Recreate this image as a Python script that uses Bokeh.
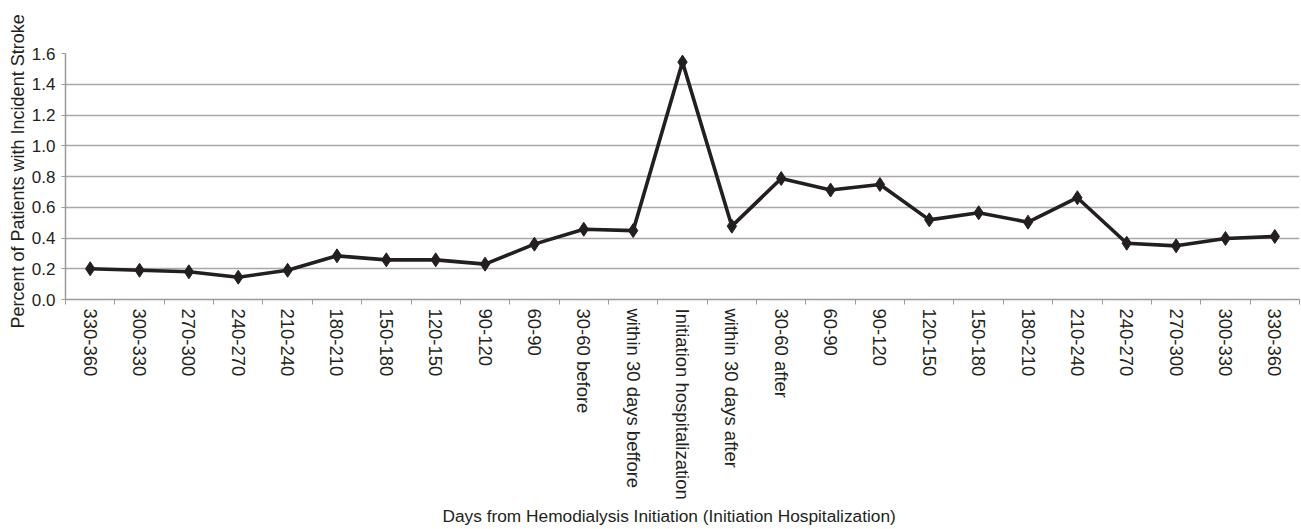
import math
from bokeh.plotting import figure
from bokeh.models import FixedTicker, Range1d, Title, PrintfTickFormatter
from bokeh.embed import file_html
from bokeh.resources import INLINE

categories = ["330-360", "300-330", "270-300", "240-270", "210-240", "180-210",
              "150-180", "120-150", "90-120", "60-90", "30-60 before",
              "within 30 days beffore", "Initiation hospitalization",
              "within 30 days after", "30-60 after", "60-90", "90-120",
              "120-150", "150-180", "180-210", "210-240", "240-270",
              "270-300", "300-330", "330-360"]
percent = [0.20, 0.19, 0.18, 0.145, 0.19, 0.284, 0.258, 0.258, 0.23, 0.36,
           0.457, 0.448, 1.544, 0.477, 0.787, 0.712, 0.748, 0.518, 0.564,
           0.503, 0.662, 0.366, 0.349, 0.397, 0.41]
y_ticks = [0.0, 0.2, 0.4, 0.6, 0.8, 1.0, 1.2, 1.4, 1.6]
x_title = "Days from Hemodialysis Initiation (Initiation Hospitalization)"
y_title = "Percent of Patients with Incident Stroke"

FONT = "Liberation Sans"
TXT = "#231f20"
AX = "#9a9a9a"

n = len(categories)
xs = list(range(n))

p = figure(width=1301, height=529, output_backend="svg", toolbar_location=None,
           x_range=Range1d(-0.5, n - 0.5), y_range=Range1d(0, 1.6),
           min_border_left=65, min_border_right=2, min_border_top=53,
           min_border_bottom=230)
p.outline_line_color = None
p.background_fill_color = "white"
p.border_fill_color = "white"

p.line(xs, percent, line_color=TXT, line_width=3.6)
p.scatter(xs, percent, marker="diamond", size=14, fill_color=TXT, line_color=TXT)

# x axis
xa = p.xaxis[0]
xa.ticker = FixedTicker(ticks=xs, minor_ticks=[i - 0.5 for i in range(n + 1)])
xa.major_label_overrides = {i: c for i, c in enumerate(categories)}
xa.major_label_orientation = -math.pi / 2
xa.major_tick_out = 0
xa.major_tick_in = 0
xa.minor_tick_out = 5
xa.minor_tick_in = 0
xa.minor_tick_line_color = AX
xa.axis_line_color = AX
xa.axis_line_width = 1.5
xa.major_label_text_font = FONT
xa.major_label_text_font_size = "18.5px"
xa.major_label_text_color = TXT
xa.major_label_standoff = 4

# y axis
ya = p.yaxis[0]
ya.ticker = FixedTicker(ticks=y_ticks)
ya.formatter = PrintfTickFormatter(format="%.1f")
ya.minor_tick_line_color = None
ya.major_tick_out = 4
ya.major_tick_in = 0
ya.major_tick_line_color = AX
ya.axis_line_color = AX
ya.axis_line_width = 1.5
ya.major_label_text_font = FONT
ya.major_label_text_font_size = "17px"
ya.major_label_text_color = TXT
ya.major_label_standoff = 6

p.xgrid.grid_line_color = None
p.ygrid.ticker = FixedTicker(ticks=y_ticks[1:])
p.ygrid.grid_line_color = "#a8a8a8"
p.ygrid.grid_line_width = 1.5

p.add_layout(Title(text=y_title, align="left", text_font=FONT,
                   text_font_size="18px", text_font_style="normal",
                   text_color=TXT, standoff=2, offset=-29), "left")
p.add_layout(Title(text=x_title, align="left", text_font=FONT,
                   text_font_size="17.3px", text_font_style="normal",
                   text_color=TXT, standoff=2, offset=377), "below")

open("out.html", "w").write(file_html(p, INLINE))
